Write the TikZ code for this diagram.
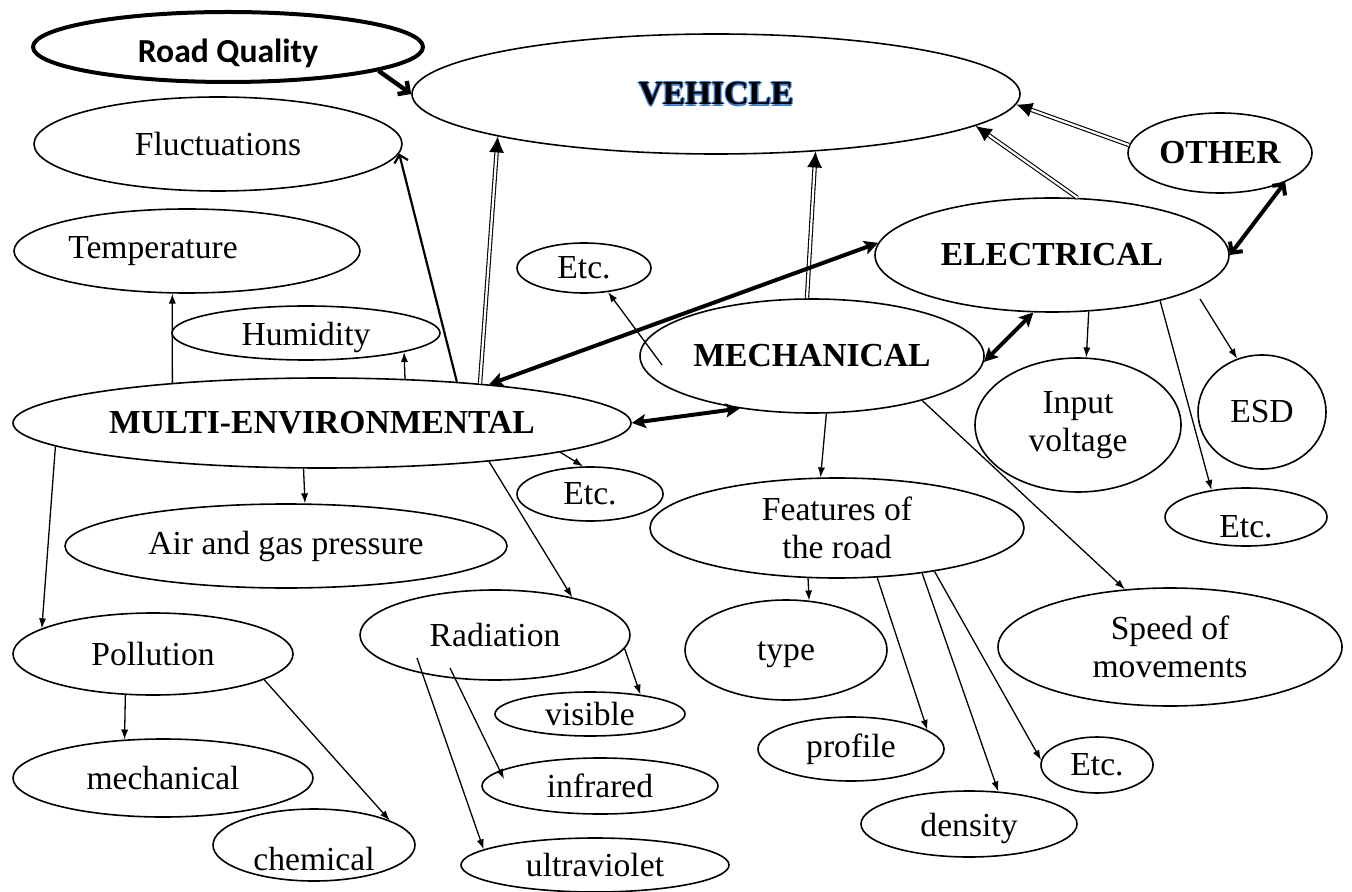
\documentclass[tikz,border=0pt]{standalone}
\usepackage{fontspec}
\setmainfont{Liberation Serif}
\newfontfamily\carlito{Carlito}
\usetikzlibrary{arrows.meta,shapes.geometric,calc}
\definecolor{vblue}{RGB}{58,124,206}

% outlined title: blue halo under black letters
\newcommand{\haloword}[1]{%
  \rlap{\color{vblue}\kern-0.7pt #1}%
  \rlap{\color{vblue}\kern0.7pt #1}%
  \rlap{\color{vblue}\raisebox{0.7pt}[0pt][0pt]{#1}}%
  \rlap{\color{vblue}\raisebox{-0.7pt}[0pt][0pt]{#1}}%
  #1}
% lower a label inside its bubble without changing the bubble
\newcommand{\lowered}[2]{\raisebox{-#1}[\height][\depth]{#2}}

\begin{document}
\begin{tikzpicture}[x=0.5pt,y=-0.5pt,
  every node/.style={font=\fontsize{16.8}{19}\selectfont},
  bub/.style 2 args={ellipse,draw,line width=0.8pt,inner sep=0pt,
    minimum width=#1pt,minimum height=#2pt},
  multi line/.style={align=center},
  thin/.style={line width=0.65pt,-{Latex[length=5pt,width=3.6pt]}},
  dbl/.style={double,double distance=1.1pt,line width=0.55pt,
    -{Latex[length=8pt,width=7.5pt]}},
  heavy/.style={line width=2pt,
    {Stealth[length=7pt,width=7pt,inset=1.5pt]}-{Stealth[length=7pt,width=7pt,inset=1.5pt]}},
  heavybarb/.style={line width=2pt,
    {Straight Barb[length=4pt,width=8pt]}-{Straight Barb[length=4pt,width=8pt]}},
  roadarrow/.style={line width=2.2pt,-{Straight Barb[length=4pt,width=8pt]}},
  midarrow/.style={line width=1.1pt,-{Straight Barb[length=3.5pt,width=7pt]}},
]
\useasboundingbox (0,0) rectangle (1352,892);

% ---- nodes ----
\node[bub={195}{35},line width=2pt] (roadq) at (228,47)
  {\lowered{3pt}{\carlito\bfseries Road Quality}};
\node[bub={304}{60}] (vehicle) at (716,94) {\bfseries\haloword{VEHICLE}};
\node[bub={184}{47}] (fluct) at (218,144) {Fluctuations};
\node[bub={92}{40}] (other) at (1220,153) {\bfseries OTHER};
\node[bub={177}{57}] (elec) at (1052,255) {\bfseries ELECTRICAL};
\node[bub={173}{42}] (temp) at (187,251) {Temperature\hspace*{34pt}};
\node[bub={67}{25}] (etcA) at (584,268) {Etc.};
\node[bub={134}{27}] (humid) at (306,333) {\lowered{2pt}{Humidity}};
\node[bub={172}{57}] (mech) at (812,356) {\bfseries MECHANICAL};
\node[bub={309}{45}] (multi) at (322,423) {\bfseries MULTI-ENVIRONMENTAL};
\node[bub={73}{27}] (etcB) at (590,494) {Etc.};
\node[bub={103}{67},multi line] (input) at (1078,425) {Input\\voltage};
\node[bub={64}{57}] (esd) at (1262,412) {ESD};
\node[bub={81}{29}] (etcC) at (1246,517) {\lowered{5pt}{Etc.}};
\node[bub={221}{42}] (air) at (286,546) {Air and gas pressure};
\node[bub={187}{50},multi line] (features) at (837,528) {Features of\\the road};
\node[bub={140}{41}] (pollution) at (153,654) {Pollution};
\node[bub={135}{45}] (radiation) at (495,635) {Radiation};
\node[bub={101}{50}] (type) at (786,650) {\lowered{2.5pt}{type}};
\node[bub={172}{59},multi line] (speed) at (1170,647) {Speed of\\movements};
\node[bub={95}{22}] (visible) at (590,714) {visible};
\node[bub={93}{32}] (profile) at (851,749) {profile};
\node[bub={56}{28}] (etcD) at (1097,765) {Etc.};
\node[bub={150}{39}] (mechanical) at (163,778) {mechanical};
\node[bub={118}{28}] (infrared) at (600,786) {infrared};
\node[bub={108}{33}] (density) at (969,824) {\lowered{2pt}{density}};
\node[bub={101}{36}] (chemical) at (314,845) {\lowered{7pt}{chemical}};
\node[bub={134}{27}] (ultraviolet) at (595,865) {ultraviolet};

% ---- links into the vehicle ----
\draw[roadarrow] (roadq.-9.5) -- (vehicle.180);
\draw[midarrow] (multi.17) -- (fluct.-3);
\draw[dbl] (multi.14.9) -- (vehicle.-169.4);
\draw[dbl] (mech.95) -- (vehicle.-30.1);
\draw[dbl] (elec.66.1) -- (vehicle.-7.4);
\draw[dbl] (other.175.4) -- (vehicle.-2.1);

% ---- two-way links between the groups ----
\draw[heavy] (multi.13.3) -- (elec.176);
\draw[heavybarb] (elec.0) -- (other.-24.9);
\draw[heavy] (mech.-2) -- (elec.-108.4);
\draw[heavy] (multi.0) -- (mech.-144.3);

% ---- environmental factors ----
\draw[thin] (multi.165.3) -- (temp.-109.7);
\draw[thin] (multi.28.5) -- (humid.-11.1);
\draw[thin] (multi.248.2) -- (air.66.7);
\draw[thin] (multi.-7.4) -- (etcB.104.5);
\draw[thin] (multi.-175.1) -- (pollution.167.3);
\draw[thin] (multi.-13.3) -- (radiation.26.5);
\draw[thin] (radiation.-6.4) -- (visible.21.6);
\draw[thin] ($(radiation.center)+(-45,33)$) -- ($(infrared.center)+(-96,-7)$);
\draw[thin] ($(radiation.center)+(-78,23)$) -- (ultraviolet.172.4);
\draw[thin] (pollution.-124.9) -- (mechanical.135.2);
\draw[thin] (pollution.-13.9) -- (chemical.18.3);

% ---- mechanical factors ----
\draw[thin] ($(mech.center)+(-150,9)$) -- (etcA.-45.6);
\draw[thin] (mech.-76.2) -- (features.108.8);
\draw[thin] (mech.-22.3) -- (speed.128.6);
\draw[thin] (features.-120.4) -- (type.65.7);
\draw[thin] (features.-51.7) -- (profile.14.7);
\draw[thin] (features.-28.4) -- (density.48.7);
\draw[thin] (features.-24.4) -- (etcD.175);

% ---- electrical factors ----
\draw[thin] (elec.-57.2) -- (input.83);
\draw[thin] ($(elec.center)+(148,44)$) -- (esd.115.5);
\draw[thin] (elec.-23.3) -- (etcC.142.3);
\end{tikzpicture}
\end{document}
